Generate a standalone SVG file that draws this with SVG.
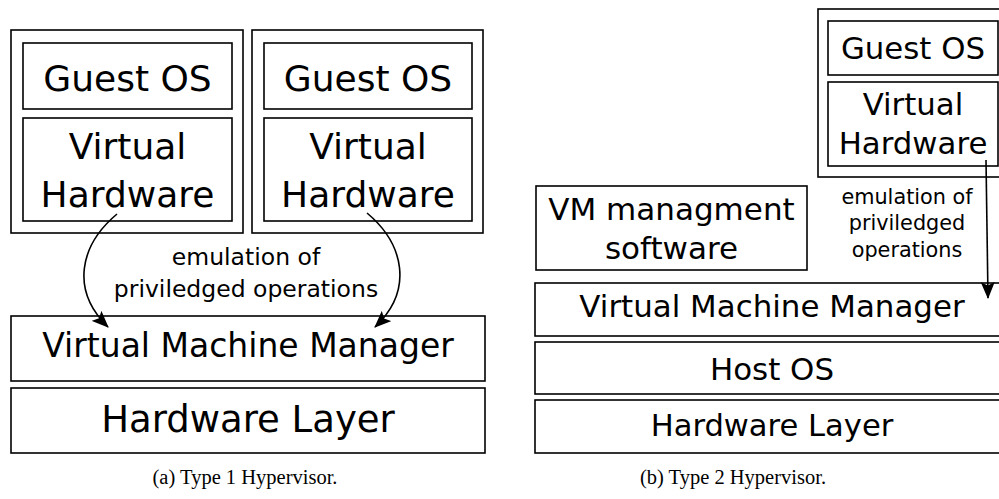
<svg xmlns="http://www.w3.org/2000/svg" width="999" height="499" viewBox="0 0 999 499">
  <style>
    .box { fill: #ffffff; stroke: #000000; stroke-width: 1.6; }
    .lbl { font-family: "DejaVu Sans", "Liberation Sans", sans-serif; fill: #000000; text-anchor: middle; }
    .cap { font-family: "Liberation Serif", "DejaVu Serif", serif; font-size: 20.5px; fill: #000000; text-anchor: middle; }
    .wire { fill: none; stroke: #000000; stroke-width: 1.6; }
  </style>
  <defs>
    <marker id="head" viewBox="0 0 17 14" refX="16" refY="7" markerWidth="17" markerHeight="14" markerUnits="userSpaceOnUse" orient="auto">
      <path d="M0,0 L17,7 L0,14 L3.5,7 Z" fill="#000000"/>
    </marker>
  </defs>

  <rect width="999" height="499" fill="#ffffff"/>

  <!-- (a) Type 1 hypervisor -->
  <g id="vm-a1">
    <rect class="box" x="11" y="30" width="232" height="203"/>
    <rect class="box" x="23" y="43" width="209" height="66"/>
    <text class="lbl" x="127.5" y="91" font-size="36">Guest OS</text>
    <rect class="box" x="23" y="118" width="209" height="103"/>
    <text class="lbl" x="127.5" y="159" font-size="36">Virtual</text>
    <text class="lbl" x="127.5" y="207" font-size="36">Hardware</text>
  </g>
  <g id="vm-a2">
    <rect class="box" x="252" y="30" width="231" height="203"/>
    <rect class="box" x="264" y="43" width="208" height="66"/>
    <text class="lbl" x="368" y="91" font-size="36">Guest OS</text>
    <rect class="box" x="264" y="118" width="208" height="103"/>
    <text class="lbl" x="368" y="159" font-size="36">Virtual</text>
    <text class="lbl" x="368" y="207" font-size="36">Hardware</text>
  </g>
  <g id="vmm-a">
    <rect class="box" x="11" y="316" width="474" height="65"/>
    <text class="lbl" x="248" y="357" font-size="33">Virtual Machine Manager</text>
  </g>
  <g id="hw-a">
    <rect class="box" x="11" y="388" width="474" height="65"/>
    <text class="lbl" x="248" y="432" font-size="37">Hardware Layer</text>
  </g>
  <g id="emu-a">
    <text class="lbl" x="246" y="265" font-size="23.5">emulation of</text>
    <text class="lbl" x="246" y="297" font-size="23.5">priviledged operations</text>
  </g>

  <!-- (b) Type 2 hypervisor -->
  <g id="vm-b">
    <rect class="box" x="818" y="9" width="190" height="168"/>
    <rect class="box" x="828" y="21" width="170" height="54"/>
    <text class="lbl" x="913" y="59" font-size="30.8">Guest OS</text>
    <rect class="box" x="828" y="82" width="170" height="84"/>
    <text class="lbl" x="913" y="115" font-size="30.8">Virtual</text>
    <text class="lbl" x="913" y="154" font-size="30.8">Hardware</text>
  </g>
  <g id="mgmt-b">
    <rect class="box" x="536" y="186" width="271" height="84"/>
    <text class="lbl" x="671.5" y="220" font-size="31">VM managment</text>
    <text class="lbl" x="671.5" y="259" font-size="31">software</text>
  </g>
  <g id="emu-b">
    <text class="lbl" x="907" y="204" font-size="20.8">emulation of</text>
    <text class="lbl" x="907" y="230" font-size="20.8">priviledged</text>
    <text class="lbl" x="907" y="257" font-size="20.8">operations</text>
  </g>
  <g id="vmm-b">
    <rect class="box" x="535" y="283" width="474" height="53"/>
    <text class="lbl" x="772" y="317" font-size="30.9">Virtual Machine Manager</text>
  </g>
  <g id="host-b">
    <rect class="box" x="535" y="342" width="474" height="52"/>
    <text class="lbl" x="772" y="380" font-size="30.9">Host OS</text>
  </g>
  <g id="hw-b">
    <rect class="box" x="535" y="400" width="474" height="53"/>
    <text class="lbl" x="772" y="436" font-size="30.6">Hardware Layer</text>
  </g>

  <!-- connectors -->
  <g id="connectors">
    <path class="wire" d="M117,214 C80,245 70,290 108,327" marker-end="url(#head)"/>
    <path class="wire" d="M367,213 C404,244 414,290 375,327" marker-end="url(#head)"/>
    <path class="wire" d="M986,160 L988,298" marker-end="url(#head)"/>
  </g>

  <!-- captions -->
  <text class="cap" x="245" y="484">(a) Type 1 Hypervisor.</text>
  <text class="cap" x="733" y="484">(b) Type 2 Hypervisor.</text>
</svg>
